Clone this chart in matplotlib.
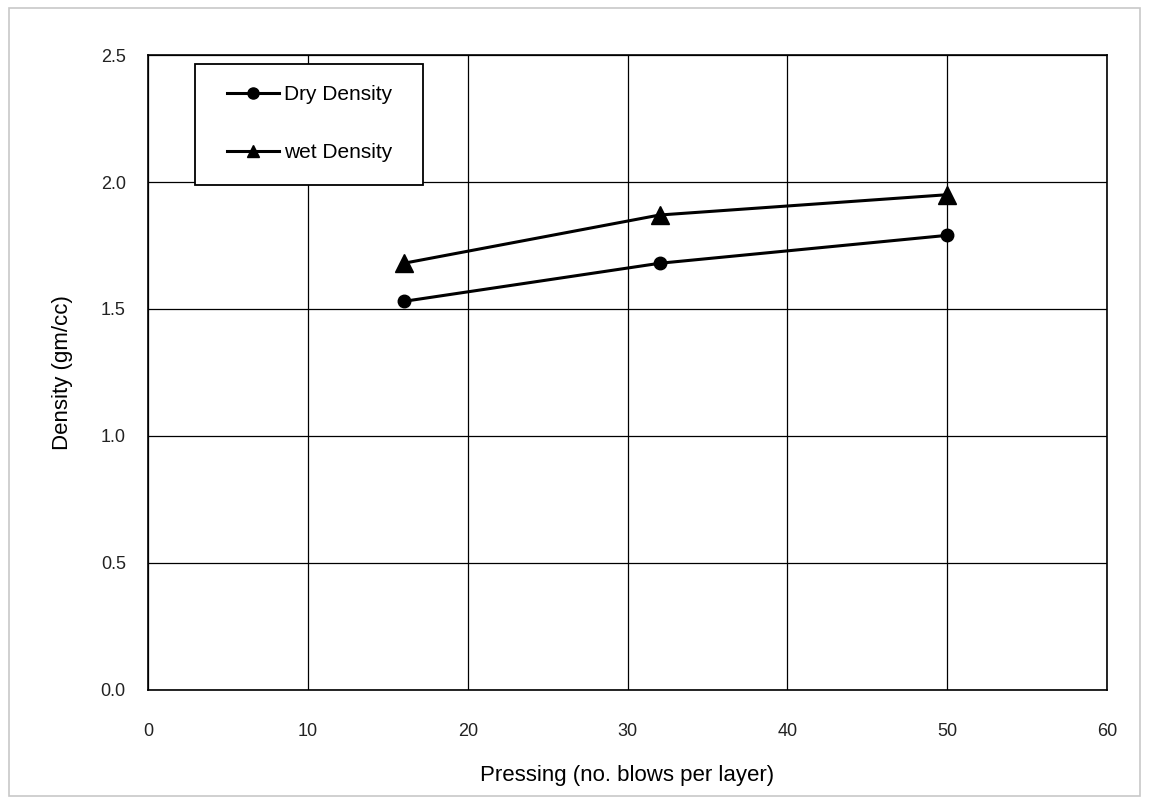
import matplotlib.pyplot as plt
from matplotlib.patches import Rectangle

plt.rcParams['font.family'] = ['Liberation Sans', 'DejaVu Sans']

blows = [16, 32, 50]
dry_density = [1.53, 1.68, 1.79]
wet_density = [1.68, 1.87, 1.95]

x_ticks = [0, 10, 20, 30, 40, 50, 60]
y_ticks = [0.0, 0.5, 1.0, 1.5, 2.0, 2.5]

fig = plt.figure(figsize=(11.52, 8.02), dpi=100)
ax = fig.add_axes([0.1285, 0.1397, 0.8325, 0.7917])

# light frame round the whole chart
fig.patches.append(Rectangle((0.008, 0.008), 0.982, 0.982, transform=fig.transFigure,
                             fill=False, edgecolor='#c8c8c8', linewidth=1.2))

ax.plot(blows, dry_density, color='black', lw=2.2, marker='o', ms=9, label='Dry Density')
ax.plot(blows, wet_density, color='black', lw=2.2, marker='^', ms=13, label='wet Density')

ax.set_xlim(0, 60)
ax.set_ylim(0, 2.5)
ax.set_xticks(x_ticks)
ax.set_yticks(y_ticks)
ax.set_yticklabels([f'{v:.1f}' for v in y_ticks])
ax.grid(True, color='black', linewidth=0.9)
ax.set_axisbelow(True)
ax.tick_params(axis='x', length=0, pad=24, labelsize=13, colors='#222222')
ax.tick_params(axis='y', length=0, pad=16, labelsize=13, colors='#222222')
for s in ax.spines.values():
    s.set_color('black')
    s.set_linewidth(1.2)

ax.set_xlabel('Pressing (no. blows per layer)', fontsize=16, labelpad=18)
ax.set_ylabel('Density (gm/cc)', fontsize=16, labelpad=20)

# legend box drawn separately so its size matches the original
ax.add_patch(Rectangle((0.049, 0.795), 0.238, 0.191, transform=ax.transAxes,
                       facecolor='white', edgecolor='black', linewidth=1.3, zorder=5))
leg = ax.legend(loc='upper left', bbox_to_anchor=(0.082, 0.952), fontsize=15,
                frameon=False, borderpad=0, borderaxespad=0,
                labelspacing=1.85, handlelength=2.5, handletextpad=0.25)
leg.set_zorder(6)
for h in leg.legend_handles:
    h.set_markersize(8)

fig.savefig('out.png', dpi=100)
